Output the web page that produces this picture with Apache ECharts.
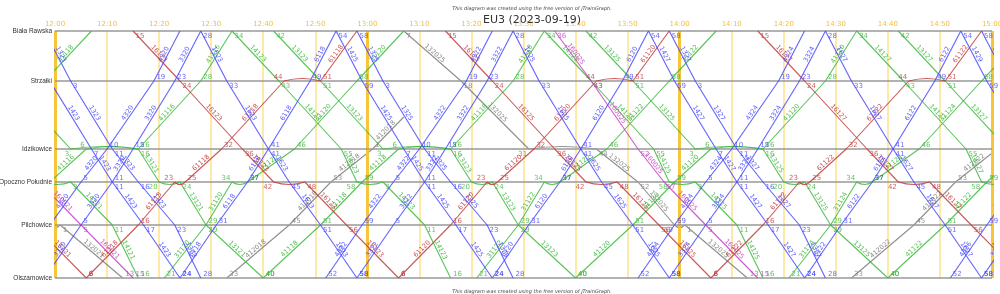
<!DOCTYPE html>
<html><head><meta charset="utf-8">
<script src="https://cdn.jsdelivr.net/npm/echarts@6/dist/echarts.min.js"></script>
<style>html,body{margin:0;padding:0;background:#fff}#chart{width:1000px;height:294px}</style>
</head><body><div id="chart"></div>
<script>
const stations = ['Biała Rawska','Strzałki','Idzikowice','Opoczno Południe','Pilchowice','Olszamowice'];
const stationKm = [0, 10.0, 23.6, 30.2, 38.8, 49.4];
const junctionKm = 17.2;
const timeTicks = ['12:00','12:10','12:20','12:30','12:40','12:50','13:00','13:10','13:20','13:30','13:40','13:50','14:00','14:10','14:20','14:30','14:40','14:50','15:00'];
const hourLines = ['12:00','13:00','14:00','15:00'];

const blueTrains = [
 ['1423', [['11:54',0],['11:59',1],['12:07',2],['12:11',3],['12:17',4],['12:24',5]]],
 ['1425', [['12:54',0],['12:59',1],['13:07',2],['13:11',3],['13:17',4],['13:24',5]]],
 ['1427', [['13:54',0],['13:59',1],['14:07',2],['14:11',3],['14:17',4],['14:24',5]]],
 ['1429', [['14:54',0],['14:59',1],['15:07',2]]],
 ['1323', [['11:58',0],['12:03',1],['12:11',2],['12:16',3],['12:23',4],['12:28',5]]],
 ['1325', [['12:58',0],['13:03',1],['13:11',2],['13:16',3],['13:23',4],['13:28',5]]],
 ['1327', [['13:58',0],['14:03',1],['14:11',2],['14:16',3],['14:23',4],['14:28',5]]],
 ['1329', [['14:58',0],['15:03',1]]],
 ['1623', [['12:28',0],['12:33',1],['12:41',2],['12:45',3],['12:51',4],['12:58',5]]],
 ['1625', [['13:28',0],['13:33',1],['13:41',2],['13:45',3],['13:51',4],['13:58',5]]],
 ['1627', [['14:28',0],['14:33',1],['14:41',2],['14:45',3],['14:51',4],['14:58',5]]],
 ['6118', [['12:24',5],['12:31',4],['12:37',3],['12:41',2],['12:49',1],['12:54',0]]],
 ['6120', [['13:24',5],['13:31',4],['13:37',3],['13:41',2],['13:49',1],['13:54',0]]],
 ['6122', [['14:24',5],['14:31',4],['14:37',3],['14:41',2],['14:49',1],['14:54',0]]],
 ['4320', [['11:52',5],['11:59',4],['12:05',3],['12:10',2],['12:19',1],['12:24',0]]],
 ['4322', [['12:52',5],['12:59',4],['13:05',3],['13:10',2],['13:19',1],['13:24',0]]],
 ['4324', [['13:52',5],['13:59',4],['14:05',3],['14:10',2],['14:19',1],['14:24',0]]],
 ['4326', [['14:52',5],['14:59',4],['15:05',3]]],
 ['3320', [['11:58',5],['12:05',4],['12:11',3],['12:15',2],['12:23',1],['12:28',0]]],
 ['3322', [['12:58',5],['13:05',4],['13:11',3],['13:15',2],['13:23',1],['13:28',0]]],
 ['3324', [['13:58',5],['14:05',4],['14:11',3],['14:15',2],['14:23',1],['14:28',0]]],
 ['3326', [['14:58',5],['15:05',4]]]
];
const redTrains = [
 ['16121', [['11:15',0],['11:24',1],['11:36',2],['11:42',3],['11:48',3],['11:56',4],['12:06',5]]],
 ['16123', [['12:15',0],['12:24',1],['12:36',2],['12:42',3],['12:48',3],['12:56',4],['13:06',5]]],
 ['16125', [['13:15',0],['13:24',1],['13:36',2],['13:42',3],['13:48',3],['13:56',4],['14:06',5]]],
 ['16127', [['14:15',0],['14:24',1],['14:36',2],['14:42',3],['14:48',3],['14:56',4],['15:06',5]]],
 ['61118', [['12:06',5],['12:16',4],['12:23',3],['12:25',3],['12:32',2],['12:44',1],['12:51',1],['12:58',0]]],
 ['61120', [['13:06',5],['13:16',4],['13:23',3],['13:25',3],['13:32',2],['13:44',1],['13:51',1],['13:58',0]]],
 ['61122', [['14:06',5],['14:16',4],['14:23',3],['14:25',3],['14:32',2],['14:44',1],['14:51',1],['14:58',0]]]
];
const greenTrains = [
 ['13121', [['11:42',0],['11:51',1],['12:03',2],['12:16',2],['12:20',3],['12:24',3],['12:29',4],['12:40',5]]],
 ['13123', [['12:42',0],['12:51',1],['13:03',2],['13:16',2],['13:20',3],['13:24',3],['13:29',4],['13:40',5]]],
 ['13125', [['13:42',0],['13:51',1],['14:03',2],['14:16',2],['14:20',3],['14:24',3],['14:29',4],['14:40',5]]],
 ['13127', [['14:42',0],['14:51',1],['15:03',2]]],
 ['14121', [['11:34',0],['11:43',1],['11:55',2],['11:58',3],['12:03',3],['12:11',4],['12:16',5]]],
 ['14123', [['12:34',0],['12:43',1],['12:55',2],['12:58',3],['13:03',3],['13:11',4],['13:16',5]]],
 ['14125', [['13:34',0],['13:43',1],['13:55',2],['13:58',3],['14:03',3],['14:11',4],['14:16',5]]],
 ['14127', [['14:34',0],['14:43',1],['14:55',2],['14:58',3],['15:03',3]]],
 ['31118', [['11:21',5],['11:29',4],['11:34',3],['11:37',3],['11:46',2],['11:58',1],['12:07',0]]],
 ['31120', [['12:21',5],['12:29',4],['12:34',3],['12:37',3],['12:46',2],['12:58',1],['13:07',0]]],
 ['31122', [['13:21',5],['13:29',4],['13:34',3],['13:37',3],['13:46',2],['13:58',1],['14:07',0]]],
 ['31124', [['14:21',5],['14:29',4],['14:34',3],['14:37',3],['14:46',2],['14:58',1],['15:07',0]]],
 ['41116', [['11:40',5],['11:51',4],['11:59',3],['12:06',2],['12:16',2],['12:28',1],['12:34',0]]],
 ['41118', [['12:40',5],['12:51',4],['12:59',3],['13:06',2],['13:16',2],['13:28',1],['13:34',0]]],
 ['41120', [['13:40',5],['13:51',4],['13:59',3],['14:06',2],['14:16',2],['14:28',1],['14:34',0]]],
 ['41122', [['14:40',5],['14:51',4],['14:59',3],['15:06',2]]]
];
const grayTrains = [
 ['132021', [['11:07',0],['11:18',1],['11:31',2],['11:44',2],['11:52',3],['11:59',4],['12:01',4],['12:13',5]]],
 ['132025', [['13:07',0],['13:18',1],['13:31',2],['13:44',2],['13:52',3],['13:59',4],['14:01',4],['14:13',5]]],
 ['412018', [['12:33',5],['12:45',4],['12:53',3],['13:01',2],['13:07','J']]],
 ['412022', [['14:33',5],['14:45',4],['14:53',3],['15:01',2],['15:07','J']]]
];
const magentaTrains = [
 ['160021', [['11:36',0],['11:43',1],['11:52',2],['11:57',3],['12:05',4],['12:15',5]]],
 ['160025', [['13:36',0],['13:43',1],['13:52',2],['13:57',3],['14:05',4],['14:15',5]]]
];

function toMin(s){ const p = s.split(':'); return Number(p[0])*60 + Number(p[1]); }
function kmOf(st){ return st === 'J' ? junctionKm : stationKm[st]; }
const PX_PER_MIN = 5.2;

function buildGroup(trains, color, z){
  const segs = [], labels = [];
  trains.forEach(([no, stops]) => {
    const pts = stops.map(([t, st]) => ({t: toMin(t), st, k: kmOf(st), txt: String(Number(t.split(':')[1]))}));
    const asc = pts[pts.length-1].k < pts[0].k;
    for (let i = 0; i < pts.length-1; i++){
      const a = pts[i], b = pts[i+1];
      const dwell = a.st === b.st;
      segs.push({
        name: no,
        coords: [[a.t, a.k], [b.t, b.k]],
        lineStyle: dwell ? {curveness: (a.st <= 2 ? 1 : -1) * 5 / ((b.t - a.t) * PX_PER_MIN)} : {},
        label: {show: !dwell}
      });
    }
    pts.forEach((p, i) => {
      if (p.st === 'J') return;
      if (asc && i === pts.length-1 && p.st === 0) return;
      const next = pts[i+1];
      const arrDwell = next && next.st === p.st;
      const above = p.st === 5 ? true : (p.st === 0 ? false : asc);
      labels.push({
        value: [p.t, p.k],
        label: {formatter: p.txt, align: arrDwell ? 'right' : 'left',
                verticalAlign: above ? 'bottom' : 'top',
                position: [arrDwell ? -1 : 3, above ? 0 : 2]}
      });
    });
  });
  return [
    {type: 'lines', coordinateSystem: 'cartesian2d', polyline: false, z, silent: true, animation: false, clip: true,
     data: segs, lineStyle: {color, width: 1.1, opacity: 0.85},
     label: {show: true, position: 'middle', formatter: '{b}', color, fontSize: 6.5, distance: 0, opacity: 0.9}},
    {type: 'scatter', z: z+1, silent: true, animation: false, clip: true, symbolSize: 1,
     itemStyle: {color: 'rgba(0,0,0,0)'}, data: labels,
     label: {show: true, color, fontSize: 7}}
  ];
}

const tMin = toMin(timeTicks[0]), tMax = toMin(timeTicks[timeTicks.length-1]);
const chart = echarts.init(document.getElementById('chart'), null, {renderer: 'canvas'});
const option = {
  animation: false,
  backgroundColor: '#fff',
  textStyle: {fontFamily: 'DejaVu Sans'},
  title: [
    {text: 'EU3 (2023-09-19)', left: 527, top: 10, textAlign: 'center', textStyle: {fontSize: 11, fontWeight: 'normal', color: '#333'}},
    {text: 'This diagram was created using the free version of jTrainGraph.', left: 527, top: 1, textAlign: 'center', textStyle: {fontSize: 5, fontStyle: 'italic', fontWeight: 'normal', color: '#444'}},
    {text: 'This diagram was created using the free version of jTrainGraph.', left: 527, top: 284, textAlign: 'center', textStyle: {fontSize: 5, fontStyle: 'italic', fontWeight: 'normal', color: '#444'}}
  ],
  grid: {left: 55, right: 8, top: 31, bottom: 16, containLabel: false, outerBoundsMode: 'none'},
  xAxis: {type: 'value', position: 'top', min: tMin, max: tMax, interval: 10,
    axisLine: {show: false}, axisTick: {show: false},
    axisLabel: {formatter: v => timeTicks[Math.round((v - tMin)/10)] || '', color: '#f0c040', fontSize: 7, margin: 3},
    splitLine: {show: true, lineStyle: {color: '#ffe9a8', width: 2}}},
  yAxis: {type: 'value', inverse: true, min: 0, max: stationKm[stationKm.length-1],
    axisLine: {show: false}, axisTick: {show: false}, splitLine: {show: false},
    axisLabel: {customValues: stationKm, color: '#333', fontSize: 6.5, fontFamily: 'Liberation Sans', margin: 3,
      formatter: v => { const i = stationKm.findIndex(k => Math.abs(k - v) < 1e-6); return i >= 0 ? stations[i] : ''; }}},
  series: [
    {type: 'line', data: [], z: 1, silent: true,
     markLine: {silent: true, symbol: 'none', animation: false, label: {show: false},
       lineStyle: {color: '#f6c53a', width: 3, type: 'solid'},
       data: hourLines.map(h => ({xAxis: toMin(h)}))}},
    {type: 'line', data: [], z: 2, silent: true,
     markLine: {silent: true, symbol: 'none', animation: false, label: {show: false},
       lineStyle: {color: '#999', width: 1.5, type: 'solid'},
       data: stationKm.map(k => ({yAxis: k}))}},
    ...buildGroup(grayTrains, '#7a7a7a', 3),
    ...buildGroup(greenTrains, '#3cb83c', 5),
    ...buildGroup(magentaTrains, '#c23fc2', 7),
    ...buildGroup(redTrains, '#c03a3a', 9),
    ...buildGroup(blueTrains, '#4646ff', 11)
  ]
};
chart.setOption(option);
</script>
</body></html>
